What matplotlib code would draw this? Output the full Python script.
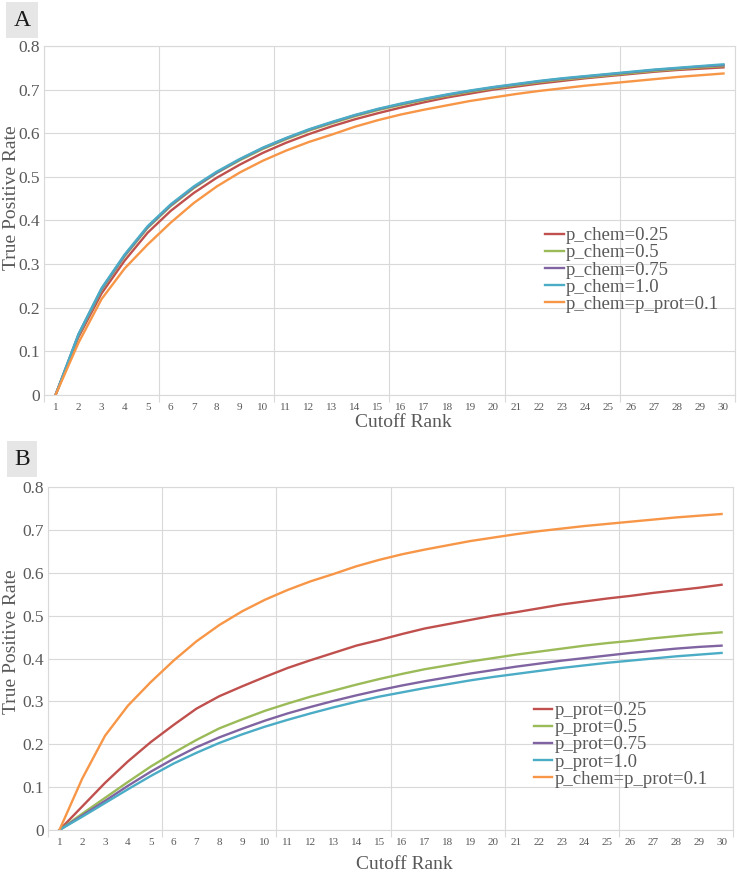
import numpy as np
import matplotlib
matplotlib.use("Agg")
import matplotlib.pyplot as plt

# Rangs de coupure (catégories 1..30)
rangs = list(range(1, 31))

# Panneau A : variation de p_chem
a_chem_025 = [0, 0.133, 0.233, 0.308, 0.372, 0.422, 0.463, 0.498, 0.528, 0.555, 0.578, 0.598, 0.616, 0.632, 0.646, 0.659, 0.671, 0.682, 0.691, 0.700, 0.707, 0.714, 0.720, 0.726, 0.731, 0.736, 0.741, 0.745, 0.748, 0.751]
a_chem_05 = [0, 0.137, 0.241, 0.318, 0.383, 0.433, 0.474, 0.509, 0.538, 0.564, 0.586, 0.606, 0.623, 0.639, 0.653, 0.665, 0.676, 0.686, 0.695, 0.703, 0.710, 0.717, 0.723, 0.728, 0.733, 0.738, 0.743, 0.747, 0.751, 0.754]
a_chem_075 = [0, 0.139, 0.243, 0.320, 0.385, 0.435, 0.476, 0.510, 0.540, 0.566, 0.588, 0.608, 0.625, 0.641, 0.655, 0.667, 0.678, 0.688, 0.697, 0.705, 0.712, 0.719, 0.725, 0.730, 0.735, 0.740, 0.745, 0.749, 0.753, 0.756]
a_chem_10 = [0, 0.140, 0.245, 0.322, 0.387, 0.437, 0.478, 0.512, 0.541, 0.567, 0.589, 0.609, 0.626, 0.642, 0.656, 0.668, 0.679, 0.689, 0.698, 0.706, 0.713, 0.720, 0.726, 0.731, 0.736, 0.741, 0.746, 0.750, 0.754, 0.758]
base_01 = [0, 0.120, 0.220, 0.290, 0.345, 0.395, 0.440, 0.478, 0.510, 0.537, 0.560, 0.580, 0.597, 0.615, 0.630, 0.643, 0.654, 0.664, 0.674, 0.682, 0.690, 0.697, 0.703, 0.709, 0.714, 0.719, 0.724, 0.729, 0.733, 0.737]

# Panneau B : variation de p_prot
b_prot_025 = [0, 0.055, 0.110, 0.160, 0.205, 0.245, 0.283, 0.312, 0.335, 0.357, 0.378, 0.396, 0.413, 0.430, 0.443, 0.457, 0.470, 0.480, 0.490, 0.500, 0.508, 0.517, 0.526, 0.533, 0.540, 0.546, 0.553, 0.559, 0.565, 0.572]
b_prot_05 = [0, 0.038, 0.075, 0.112, 0.148, 0.180, 0.210, 0.237, 0.258, 0.278, 0.295, 0.311, 0.325, 0.339, 0.352, 0.364, 0.375, 0.384, 0.393, 0.401, 0.409, 0.416, 0.423, 0.430, 0.436, 0.441, 0.447, 0.452, 0.457, 0.461]
b_prot_075 = [0, 0.034, 0.068, 0.103, 0.136, 0.166, 0.193, 0.216, 0.236, 0.255, 0.272, 0.287, 0.301, 0.314, 0.326, 0.337, 0.347, 0.356, 0.365, 0.373, 0.381, 0.388, 0.395, 0.401, 0.407, 0.413, 0.418, 0.423, 0.427, 0.430]
b_prot_10 = [0, 0.031, 0.063, 0.095, 0.126, 0.155, 0.180, 0.203, 0.223, 0.241, 0.257, 0.272, 0.286, 0.299, 0.311, 0.321, 0.331, 0.340, 0.349, 0.357, 0.364, 0.371, 0.378, 0.384, 0.390, 0.395, 0.400, 0.405, 0.409, 0.413]

labels_a = ['p_chem=0.25', 'p_chem=0.5', 'p_chem=0.75', 'p_chem=1.0', 'p_chem=p_prot=0.1']
labels_b = ['p_prot=0.25', 'p_prot=0.5', 'p_prot=0.75', 'p_prot=1.0', 'p_chem=p_prot=0.1']
couleurs = ['#C0504D', '#9BBB59', '#8064A2', '#4BACC6', '#F79646']

plt.rcParams['font.family'] = ['Liberation Serif', 'DejaVu Serif']
gris = '#595959'
grille = '#D9D9D9'

fig = plt.figure(figsize=(7.37, 8.72), dpi=100)


def tracer(rect, series, labels, lettre, lettre_y, legend_pos, ylab_xy, xlab_pad):
    ax = fig.add_axes(rect)
    x = np.arange(len(rangs)) + 0.5
    for s, c, lab in zip(series, couleurs, labels):
        ax.plot(x, s, color=c, lw=1.7, label=lab)
    ax.set_xlim(0, len(rangs))
    ax.set_ylim(0, 0.8)
    ax.set_yticks(np.arange(0, 0.81, 0.1))
    ax.set_yticklabels(['0'] + ['%.1f' % v for v in np.arange(0.1, 0.81, 0.1)])
    # grille verticale tous les 5 rangs, étiquettes au centre des catégories
    ax.set_xticks(np.arange(0, 31, 5))
    ax.set_xticklabels([])
    ax.set_xticks(x, minor=True)
    ax.set_xticklabels([str(r) for r in rangs], minor=True)
    ax.tick_params(axis='x', which='major', length=5, color=grille)
    ax.tick_params(axis='x', which='minor', length=0, labelsize=8, labelcolor=gris, pad=6)
    ax.tick_params(axis='y', length=0, labelsize=12.5, labelcolor=gris, pad=3)
    ax.grid(True, which='major', color=grille, lw=0.8)
    ax.set_axisbelow(True)
    for sp in ax.spines.values():
        sp.set_color(grille)
        sp.set_linewidth(0.8)
    ax.set_xlabel('Cutoff Rank', fontsize=14, color=gris, labelpad=xlab_pad)
    ax.set_ylabel('True Positive Rate', fontsize=14, color=gris)
    ax.yaxis.set_label_coords(*ylab_xy)
    ax.xaxis.label.set_x(0.52)
    ax.legend(loc='center left', bbox_to_anchor=legend_pos, frameon=False,
              fontsize=13.5, handlelength=1.0, handletextpad=0.1,
              labelspacing=0.0, borderpad=0, borderaxespad=0, labelcolor=gris)
    fig.text(22 / 737, lettre_y, lettre, fontsize=17, color='#1a1a1a',
             ha='center', va='center',
             bbox=dict(facecolor='#E6E6E6', edgecolor='none', boxstyle='square,pad=0.3'))
    return ax


tracer([44 / 737, 477 / 872, 691 / 737, 349 / 872],
       [a_chem_025, a_chem_05, a_chem_075, a_chem_10, base_01],
       labels_a, 'A', 1 - 20 / 872, (0.725, 0.358), (-0.035, 0.565), 1)
tracer([48 / 737, 42 / 872, 685 / 737, 343 / 872],
       [b_prot_025, b_prot_05, b_prot_075, b_prot_10, base_01],
       labels_b, 'B', 1 - 459 / 872, (0.709, 0.248), (-0.041, 0.55), 6)

fig.savefig('out.png', dpi=100)
